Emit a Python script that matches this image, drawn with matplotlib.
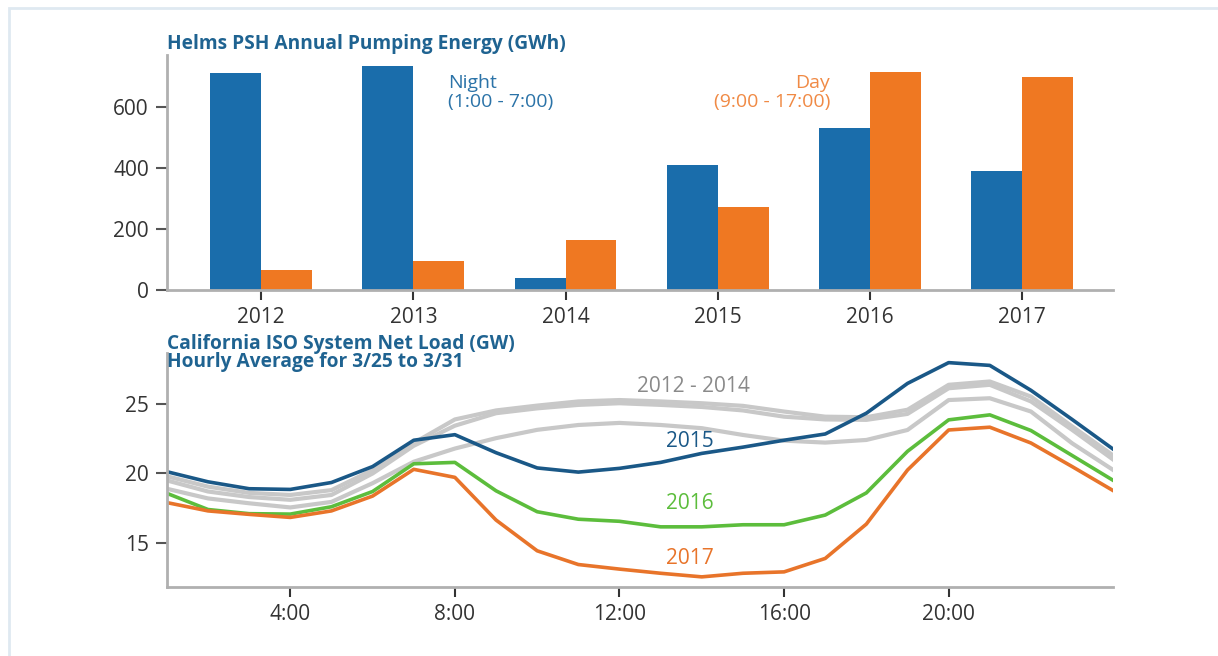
import numpy as np
import matplotlib.pyplot as plt
from matplotlib.patches import Rectangle

# top panel: annual pumping energy (GWh)
years = ['2012', '2013', '2014', '2015', '2016', '2017']
night = [712, 737, 40, 410, 532, 392]
day = [66, 95, 164, 274, 716, 699]

# bottom panel: hourly net load (GW), hours 1..24
hours = list(range(1, 25))
load_2012 = [19.8, 19.05, 18.6, 18.45, 18.8, 20.25, 22.2, 23.9, 24.55, 24.9, 25.2, 25.3,
             25.2, 25.07, 24.88, 24.47, 24.1, 24.06, 24.6, 26.4, 26.64, 25.55, 23.4, 21.3]
load_2013 = [19.5, 18.7, 18.3, 18.1, 18.45, 20.0, 22.0, 23.45, 24.35, 24.7, 24.95, 25.07,
             24.95, 24.8, 24.55, 24.1, 23.9, 23.87, 24.3, 26.15, 26.4, 25.2, 23.15, 21.0]
load_2014 = [18.9, 18.2, 17.85, 17.55, 17.95, 19.3, 20.85, 21.8, 22.55, 23.15, 23.5, 23.65,
             23.5, 23.27, 22.78, 22.37, 22.23, 22.42, 23.14, 25.3, 25.43, 24.47, 22.18, 20.25]
load_2015 = [20.13, 19.4, 18.9, 18.85, 19.35, 20.5, 22.4, 22.8, 21.5, 20.4, 20.1, 20.37,
             20.8, 21.45, 21.9, 22.4, 22.85, 24.35, 26.5, 28.0, 27.8, 26.0, 23.9, 21.75]
load_2016 = [18.57, 17.4, 17.1, 17.07, 17.6, 18.7, 20.7, 20.8, 18.75, 17.24, 16.7, 16.55,
             16.15, 16.15, 16.3, 16.3, 17.0, 18.6, 21.6, 23.87, 24.23, 23.1, 21.3, 19.5]
load_2017 = [17.9, 17.3, 17.05, 16.83, 17.3, 18.37, 20.3, 19.72, 16.64, 14.42, 13.43, 13.1,
             12.8, 12.54, 12.8, 12.9, 13.87, 16.35, 20.25, 23.14, 23.34, 22.2, 20.5, 18.76]
hour_ticks = [4, 8, 12, 16, 20]
hour_labels = ['4:00', '8:00', '12:00', '16:00', '20:00']

plt.rcParams['font.family'] = ['Open Sans', 'DejaVu Sans']

fig = plt.figure(figsize=(12.18, 6.56), dpi=100)
fig.patches.append(Rectangle((0.007, -0.05), 1.2, 1.038, transform=fig.transFigure,
                             fill=False, edgecolor='#dfe9f1', linewidth=2))

title_col = '#1f6391'
tick_col = '#333333'
spine_col = '#b0b0b0'


def style(ax):
    for s in ['top', 'right']:
        ax.spines[s].set_visible(False)
    for s in ['left', 'bottom']:
        ax.spines[s].set_color(spine_col)
        ax.spines[s].set_linewidth(2)
    ax.tick_params(axis='y', length=8, width=1.5, color='#555555', labelsize=15,
                   labelcolor=tick_col, pad=5)
    ax.tick_params(axis='x', length=7, width=1.5, color='#333333', labelsize=15,
                   labelcolor=tick_col, pad=5)


# ---- bar chart ----
ax1 = fig.add_axes([0.137, 0.558, 0.777, 0.358])
x = np.arange(len(years))
w = 0.335
ax1.bar(x - w / 2, night, w, color='#1a6dab')
ax1.bar(x + w / 2, day, w, color='#ef7822')
ax1.set_xlim(-0.62, 5.6)
ax1.set_ylim(0, 772)
ax1.set_xticks(x)
ax1.set_xticklabels(years)
ax1.set_yticks([0, 200, 400, 600])
style(ax1)
ax1.text(0.0, 1.005, 'Helms PSH Annual Pumping Energy (GWh)', transform=ax1.transAxes,
         fontsize=13.8, fontweight='bold', color=title_col, ha='left', va='bottom')
ax1.text(1.23, 650, 'Night\n(1:00 - 7:00)', color='#2b73a8', fontsize=14,
         ha='left', va='center', linespacing=1.05)
ax1.text(3.74, 650, 'Day\n(9:00 - 17:00)', color='#f08a45', fontsize=14,
         ha='right', va='center', linespacing=1.05, multialignment='right')

# ---- line chart ----
ax2 = fig.add_axes([0.137, 0.105, 0.777, 0.357])
gray = '#c8c8c8'
ax2.plot(hours, load_2012, color=gray, lw=3)
ax2.plot(hours, load_2013, color=gray, lw=3)
ax2.plot(hours, load_2014, color=gray, lw=3)
ax2.plot(hours, load_2015, color='#1a5887', lw=2.6)
ax2.plot(hours, load_2016, color='#5cbd3c', lw=2.6)
ax2.plot(hours, load_2017, color='#e8742a', lw=2.6)
ax2.set_xlim(1, 24)
ax2.set_ylim(11.8, 28.7)
ax2.set_xticks(hour_ticks)
ax2.set_xticklabels(hour_labels)
ax2.set_yticks([15, 20, 25])
style(ax2)
ax2.text(0.0, 1.0, 'California ISO System Net Load (GW)\nHourly Average for 3/25 to 3/31',
         transform=ax2.transAxes, fontsize=13.8, fontweight='bold', color=title_col,
         ha='left', va='center', linespacing=0.88)
ax2.text(13.8, 26.3, '2012 - 2014', color='#8a8a8a', fontsize=15, ha='center', va='center')
ax2.text(13.7, 22.3, '2015', color='#1a5887', fontsize=15, ha='center', va='center')
ax2.text(13.7, 17.85, '2016', color='#5cbd3c', fontsize=15, ha='center', va='center')
ax2.text(13.7, 13.85, '2017', color='#e8742a', fontsize=15, ha='center', va='center')

fig.savefig('out.png', dpi=100)
